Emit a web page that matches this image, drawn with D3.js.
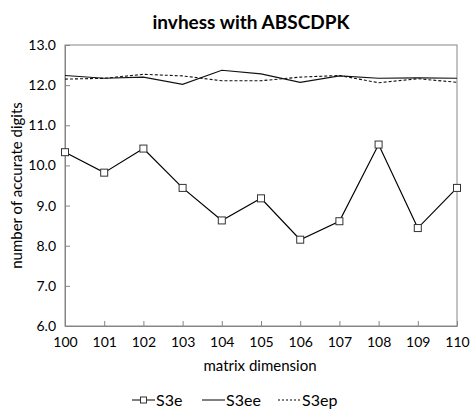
<!DOCTYPE html>
<html><head><meta charset="utf-8">
<script src="https://cdn.jsdelivr.net/npm/d3@7"></script>
<style>body{margin:0;background:#fff}svg{display:block}text{font-family:Lato,"Open Sans",sans-serif}</style>
</head><body>
<svg id="c" width="470" height="415"></svg>
<script>
const dims = [100,101,102,103,104,105,106,107,108,109,110];
const s3e  = [10.33,9.82,10.42,9.44,8.63,9.18,8.15,8.61,10.52,8.44,9.44];
const s3ee = [12.24,12.17,12.2,12.02,12.37,12.28,12.07,12.23,12.17,12.18,12.17];
const s3ep = [12.15,12.17,12.27,12.23,12.11,12.11,12.2,12.24,12.06,12.16,12.07];
const yTicks = [6,7,8,9,10,11,12,13];
const seriesNames = ["S3e","S3ee","S3ep"];

const svg = d3.select("#c");
const m = {l:65, r:457, t:45, b:326};
const x = d3.scaleLinear().domain([100,110]).range([m.l, m.r]);
const y = d3.scaleLinear().domain([6,13]).range([m.b, m.t]);

svg.append("text").attr("x",251).attr("y",29).attr("text-anchor","middle")
  .attr("font-size",19).attr("font-weight","bold").attr("fill","#000").text("invhess with ABSCDPK");

svg.append("rect").attr("x",m.l).attr("y",m.t).attr("width",m.r-m.l).attr("height",m.b-m.t)
  .attr("fill","none").attr("stroke","#868686").attr("stroke-width",1);

const xAxis = svg.append("g").attr("transform",`translate(0,${m.b})`)
  .call(d3.axisBottom(x).tickValues(dims).tickFormat(d3.format("d")).tickSizeInner(-5).tickSizeOuter(0).tickPadding(11));
xAxis.select(".domain").attr("stroke","#868686");
xAxis.selectAll(".tick line").attr("stroke","#868686");
xAxis.selectAll("text").attr("font-size",14).attr("fill","#000").attr("font-family","Lato");

const yAxis = svg.append("g").attr("transform",`translate(${m.l},0)`)
  .call(d3.axisLeft(y).tickValues(yTicks).tickFormat(d3.format(".1f")).tickSizeInner(-5).tickSizeOuter(0).tickPadding(9));
yAxis.select(".domain").attr("stroke","#868686");
yAxis.selectAll(".tick line").attr("stroke","#868686");
yAxis.selectAll("text").attr("font-size",14).attr("fill","#000").attr("font-family","Lato");

svg.append("text").attr("x",260).attr("y",371).attr("text-anchor","middle")
  .attr("font-size",15).attr("fill","#000").text("matrix dimension");
svg.append("text").attr("transform",`translate(22,${(m.t+m.b)/2}) rotate(-90)`).attr("text-anchor","middle")
  .attr("font-size",15).attr("fill","#000").text("number of accurate digits");

const line = d3.line().x((d,i)=>x(dims[i])).y(d=>y(d));
svg.append("path").datum(s3ee).attr("d",line).attr("fill","none").attr("stroke","#111").attr("stroke-width",1.1);
svg.append("path").datum(s3ep).attr("d",line).attr("fill","none").attr("stroke","#111").attr("stroke-width",1.1).attr("stroke-dasharray","3,2");
svg.append("path").datum(s3e).attr("d",line).attr("fill","none").attr("stroke","#000").attr("stroke-width",1.2);
svg.selectAll("rect.mk").data(s3e).enter().append("rect").attr("class","mk")
  .attr("x",(d,i)=>x(dims[i])-3.5).attr("y",d=>y(d)-3.5).attr("width",7).attr("height",7)
  .attr("fill","#fff").attr("stroke","#333").attr("stroke-width",1);

const ly = 400;
const leg = [{n:seriesNames[0],x0:132,dash:null,mk:true},{n:seriesNames[1],x0:202,dash:null,mk:false},{n:seriesNames[2],x0:278,dash:"2,2",mk:false}];
leg.forEach(l=>{
  svg.append("line").attr("x1",l.x0).attr("x2",l.x0+23).attr("y1",ly).attr("y2",ly)
    .attr("stroke","#000").attr("stroke-width",1).attr("stroke-dasharray",l.dash);
  if(l.mk) svg.append("rect").attr("x",l.x0+11.5-3).attr("y",ly-3).attr("width",6).attr("height",6)
    .attr("fill","#fff").attr("stroke","#333");
  svg.append("text").attr("x",l.x0+24).attr("y",ly+5.5).attr("font-size",16).attr("fill","#000").text(l.n);
});
</script>
</body></html>
